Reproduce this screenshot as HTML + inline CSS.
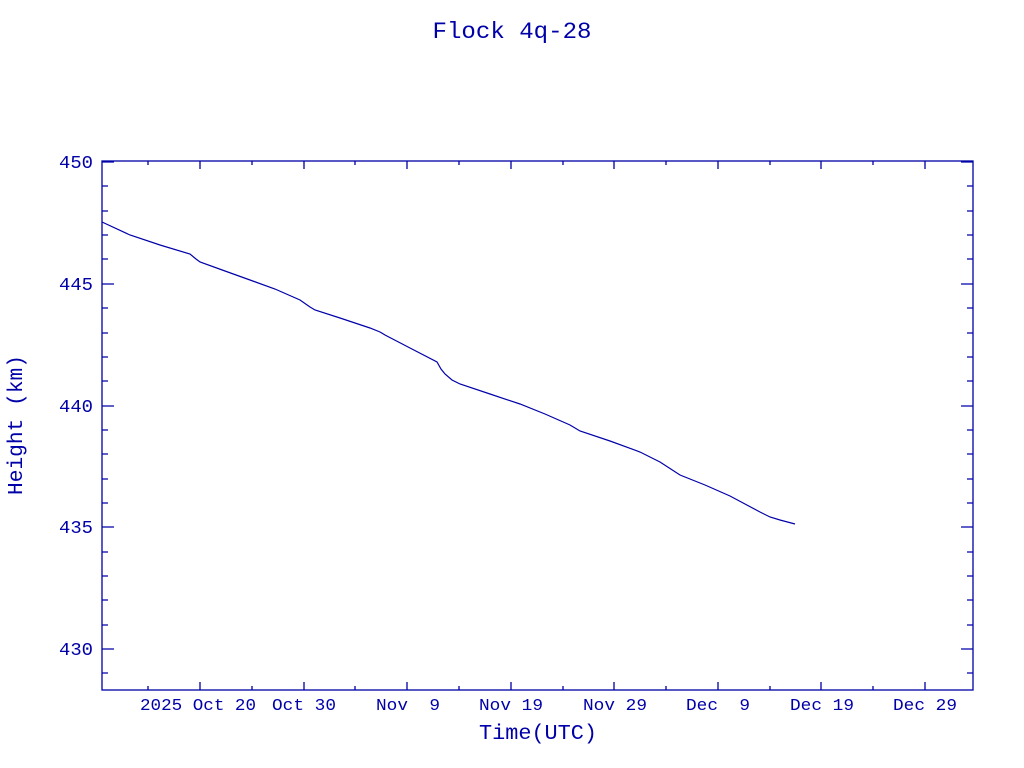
<!DOCTYPE html>
<html><head><style>
html,body{margin:0;padding:0;background:#fff;width:1024px;height:768px;overflow:hidden}
svg text{font-family:"Liberation Mono",monospace;fill:#0000a8;white-space:pre}
</style></head><body>
<svg width="1024" height="768" viewBox="0 0 1024 768" xmlns="http://www.w3.org/2000/svg" xml:space="preserve">
<text x="512" y="38" font-size="23" text-anchor="middle" textLength="159" lengthAdjust="spacingAndGlyphs">Flock 4q-28</text>
<g stroke="#0000a8" stroke-width="1.3" fill="none">
<rect x="102" y="161" width="871" height="529"/>
<path d="M102 162h12M102 284h12M102 406h12M102 527h12M102 649h12M973 162h-12M973 284h-12M973 406h-12M973 527h-12M973 649h-12"/>
<path d="M102 186h6M102 211h6M102 235h6M102 259h6M102 308h6M102 333h6M102 357h6M102 381h6M102 430h6M102 454h6M102 479h6M102 503h6M102 552h6M102 576h6M102 600h6M102 625h6M102 673h6
M973 186h-6M973 211h-6M973 235h-6M973 259h-6M973 308h-6M973 333h-6M973 357h-6M973 381h-6M973 430h-6M973 454h-6M973 479h-6M973 503h-6M973 552h-6M973 576h-6M973 600h-6M973 625h-6M973 673h-6"/>
<path d="M200 690v-8M304 690v-8M407 690v-8M511 690v-8M614 690v-8M718 690v-8M821 690v-8M925 690v-8
M200 161v8M304 161v8M407 161v8M511 161v8M614 161v8M718 161v8M821 161v8M925 161v8"/>
<path d="M148 690v-4M252 690v-4M355 690v-4M459 690v-4M563 690v-4M666 690v-4M770 690v-4M873 690v-4
M148 161v4M252 161v4M355 161v4M459 161v4M563 161v4M666 161v4M770 161v4M873 161v4"/>
<polyline stroke-width="1.2" points="102,222 130,235 160,245 190,254 196,259 200,262 225,271 250,280 275,289 300,300 310,307 315,310 340,318 370,328 380,332 385,335 410,348 437,362 441,369 445,374 452,380 460,384 490,394 520,404 545,414 570,425 580,431 610,441 640,452 660,462 680,475 705,485 730,496 745,504 760,512 770,517 780,520 795,524"/>
</g>
<g font-size="18" text-anchor="end">
<text x="93" y="168" textLength="34" lengthAdjust="spacingAndGlyphs">450</text>
<text x="93" y="290" textLength="34" lengthAdjust="spacingAndGlyphs">445</text>
<text x="93" y="412" textLength="34" lengthAdjust="spacingAndGlyphs">440</text>
<text x="93" y="533" textLength="34" lengthAdjust="spacingAndGlyphs">435</text>
<text x="93" y="655" textLength="34" lengthAdjust="spacingAndGlyphs">430</text>
</g>
<g font-size="17" text-anchor="middle">
<text x="198" y="710" textLength="116" lengthAdjust="spacingAndGlyphs">2025 Oct 20</text>
<text x="304" y="710" textLength="64" lengthAdjust="spacingAndGlyphs">Oct 30</text>
<text x="408" y="710" textLength="64" lengthAdjust="spacingAndGlyphs">Nov  9</text>
<text x="511" y="710" textLength="64" lengthAdjust="spacingAndGlyphs">Nov 19</text>
<text x="615" y="710" textLength="64" lengthAdjust="spacingAndGlyphs">Nov 29</text>
<text x="718" y="710" textLength="64" lengthAdjust="spacingAndGlyphs">Dec  9</text>
<text x="822" y="710" textLength="64" lengthAdjust="spacingAndGlyphs">Dec 19</text>
<text x="925" y="710" textLength="64" lengthAdjust="spacingAndGlyphs">Dec 29</text>
</g>
<text x="538" y="739" font-size="21" text-anchor="middle" textLength="118" lengthAdjust="spacingAndGlyphs">Time(UTC)</text>
<text transform="translate(22,425) rotate(-90)" font-size="21" text-anchor="middle" textLength="140" lengthAdjust="spacingAndGlyphs">Height (km)</text>
</svg>
</body></html>
